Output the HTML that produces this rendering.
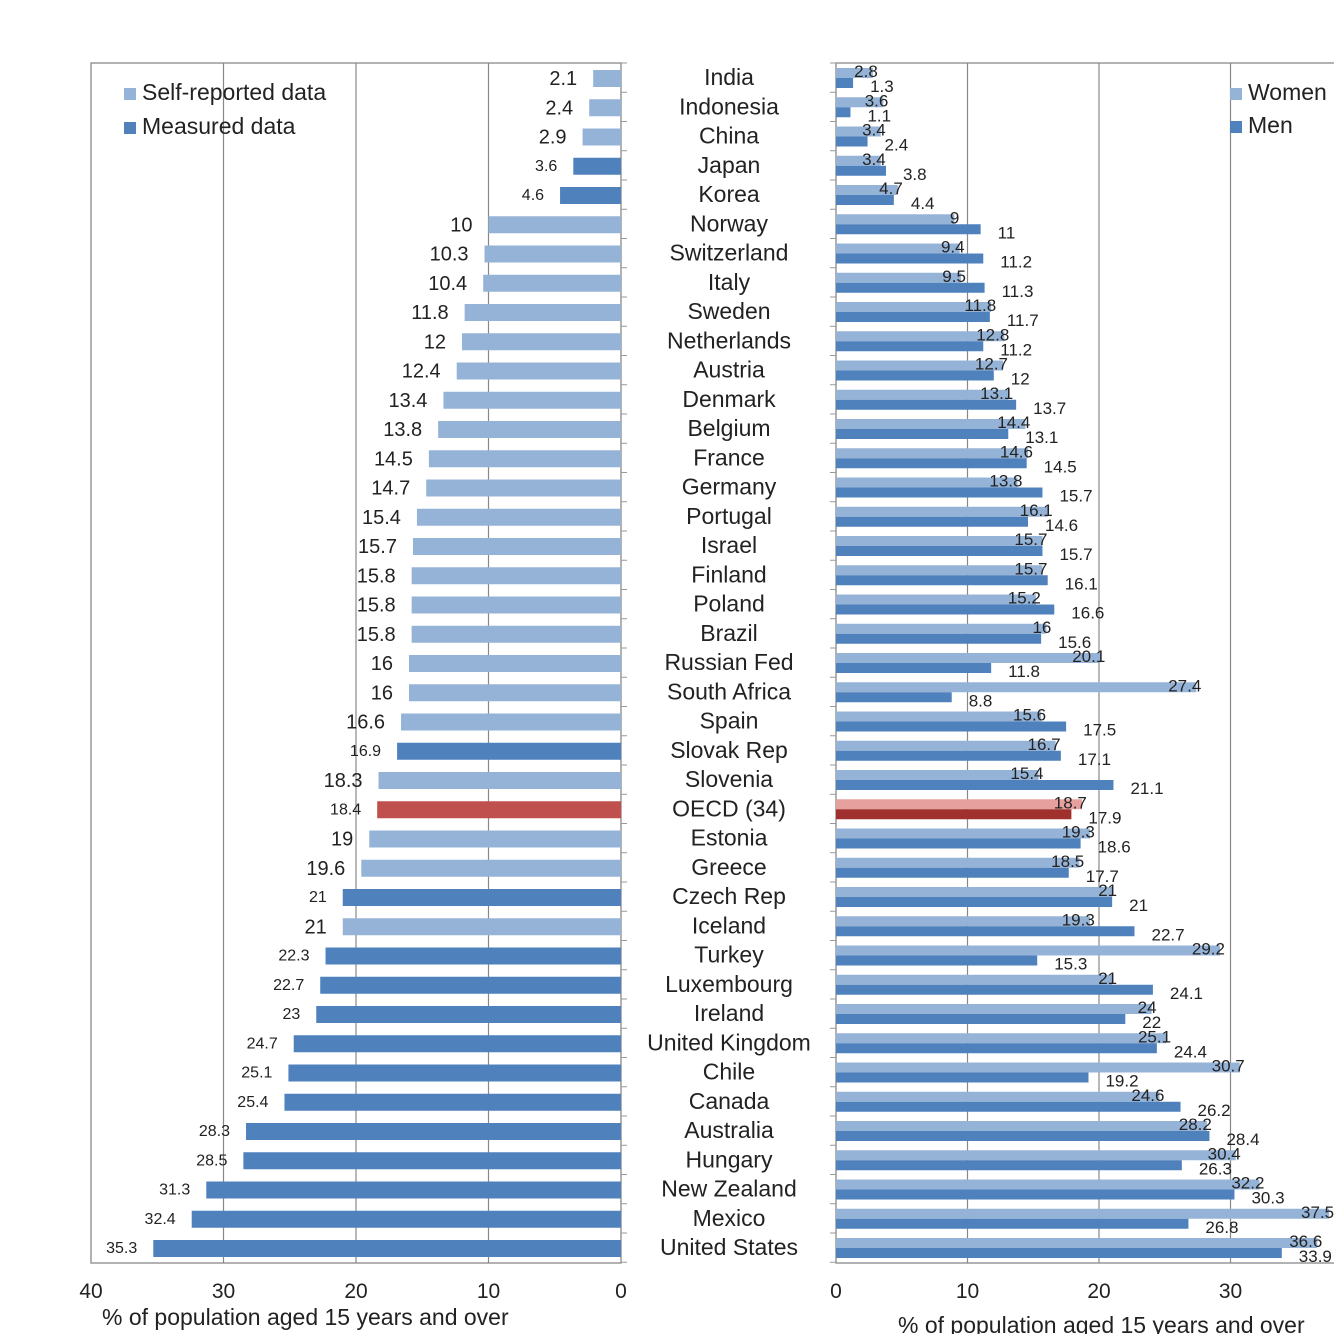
<!DOCTYPE html>
<html><head><meta charset="utf-8"><style>
body{margin:0;background:#fff;}
svg text{font-family:"Liberation Sans",sans-serif;fill:#222;}
</style></head><body>
<svg id="c" width="1334" height="1334" xmlns="http://www.w3.org/2000/svg"></svg>
<script>
const countries=["India","Indonesia","China","Japan","Korea","Norway","Switzerland","Italy","Sweden","Netherlands","Austria","Denmark","Belgium","France","Germany","Portugal","Israel","Finland","Poland","Brazil","Russian Fed","South Africa","Spain","Slovak Rep","Slovenia","OECD (34)","Estonia","Greece","Czech Rep","Iceland","Turkey","Luxembourg","Ireland","United Kingdom","Chile","Canada","Australia","Hungary","New Zealand","Mexico","United States"];
const total=[2.1,2.4,2.9,3.6,4.6,10,10.3,10.4,11.8,12,12.4,13.4,13.8,14.5,14.7,15.4,15.7,15.8,15.8,15.8,16,16,16.6,16.9,18.3,18.4,19,19.6,21,21,22.3,22.7,23,24.7,25.1,25.4,28.3,28.5,31.3,32.4,35.3];
const measured=[0,0,0,1,1,0,0,0,0,0,0,0,0,0,0,0,0,0,0,0,0,0,0,1,0,2,0,0,1,0,1,1,1,1,1,1,1,1,1,1,1];
const women=[2.8,3.6,3.4,3.4,4.7,9,9.4,9.5,11.8,12.8,12.7,13.1,14.4,14.6,13.8,16.1,15.7,15.7,15.2,16,20.1,27.4,15.6,16.7,15.4,18.7,19.3,18.5,21,19.3,29.2,21,24,25.1,30.7,24.6,28.2,30.4,32.2,37.5,36.6];
const men=[1.3,1.1,2.4,3.8,4.4,11,11.2,11.3,11.7,11.2,12,13.7,13.1,14.5,15.7,14.6,15.7,16.1,16.6,15.6,11.8,8.8,17.5,17.1,21.1,17.9,18.6,17.7,21,22.7,15.3,24.1,22,24.4,19.2,26.2,28.4,26.3,30.3,26.8,33.9];
const ticksL=[40,30,20,10,0];
const ticksR=[0,10,20,30];
const svg=document.getElementById('c');const NS='http://www.w3.org/2000/svg';
function el(t,a,txt){const e=document.createElementNS(NS,t);for(const k in a)e.setAttribute(k,a[k]);if(txt!==undefined)e.textContent=txt;svg.appendChild(e);return e;}
const plotTop=63,rowH=29.25,row0=78;
const xL=v=>621-v*13.25;
const xR=v=>836+v*13.15;
const yC=i=>row0+i*rowH;
let f=el('rect',{x:91,y:plotTop,width:530,height:1200,fill:'none',stroke:'#999','stroke-width':1.5});

ticksL.forEach(t=>{if(t>0&&t<40){let g=el('line',{x1:xL(t),x2:xL(t),y1:plotTop,y2:1263,stroke:'#888','stroke-width':1.2});}
let tx=el('text',{x:xL(t),y:1298,'font-size':21,'text-anchor':'middle'},t);});
let g=el('rect',{x:836,y:plotTop,width:520,height:1200,fill:'none',stroke:'#999','stroke-width':1.5});

ticksR.forEach(t=>{if(t>0){let l=el('line',{x1:xR(t),x2:xR(t),y1:plotTop,y2:1263,stroke:'#888','stroke-width':1.2});}
let tx=el('text',{x:xR(t),y:1298,'font-size':21,'text-anchor':'middle'},t);});
for(let i=0;i<=countries.length;i++){const y=plotTop+i*rowH;
let a=el('line',{x1:621,x2:627,y1:y,y2:y,stroke:'#999'});
let b=el('line',{x1:830,x2:836,y1:y,y2:y,stroke:'#999'});}
countries.forEach((c,i)=>{const y=yC(i);
const m=measured[i];const col=m==2?'#c0504d':(m==1?'#4f81bd':'#95b3d7');
let r=el('rect',{x:xL(total[i]),y:y-8,width:total[i]*13.25,height:17,fill:col});
let t=el('text',{x:xL(total[i])-16,y:y+(m?5:7),'font-size':m?16:20,'text-anchor':'end'},total[i]);
let n=el('text',{x:729,y:y+7,'font-size':23,'text-anchor':'middle'},c);
const wc=m==2?'#e6a09e':'#95b3d7',mc=m==2?'#a0302e':'#4f81bd';
let w=el('rect',{x:836,y:y-10,width:women[i]*13.15,height:10,fill:wc});
let mm=el('rect',{x:836,y:y,width:men[i]*13.15,height:10,fill:mc});
let wt=el('text',{x:xR(women[i])+5,y:y-1,'font-size':17,'text-anchor':'end'},women[i]);
let mt=el('text',{x:xR(men[i])+17,y:y+14,'font-size':17},men[i]);
});
function leg(x,y,c,txt,nm){let r=el('rect',{x:x,y:y-12,width:12,height:12,fill:c});
let t=el('text',{x:x+18,y:y,'font-size':23},txt);}
leg(124,100,'#95b3d7','Self-reported data','self-reported');
leg(124,134,'#4f81bd','Measured data','measured');
leg(1230,100,'#95b3d7','Women','women');
leg(1230,133,'#4f81bd','Men','men');
let ta=el('text',{x:102,y:1325,'font-size':23},'% of population aged 15 years and over');
let tb=el('text',{x:898,y:1333,'font-size':23},'% of population aged 15 years and over');
</script>
</body></html>
